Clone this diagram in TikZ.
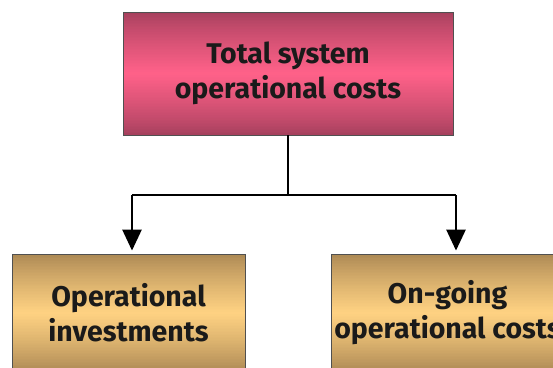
\documentclass[tikz,border=0pt]{standalone}
\usepackage{fontspec}
\setmainfont{Fira Sans}
\usetikzlibrary{arrows.meta}
\definecolor{pinkdark}{HTML}{A33F5C}
\definecolor{pinklight}{HTML}{FF6189}
\definecolor{golddark}{HTML}{A88552}
\definecolor{goldlight}{HTML}{FFD282}
\definecolor{txt}{HTML}{1A1A1A}
\definecolor{edge}{HTML}{505050}
\tikzset{
  box/.style={draw=edge, line width=0.8pt, align=center, font=\fontsize{28.5}{35}\selectfont\bfseries, text=txt, inner sep=0pt},
  conn/.style={line width=2.6pt, black},
  arr/.style={conn, -{Triangle[width=19pt,length=21pt]}}
}
% gradient strips: x1,y1 (top), x2,y2 (bottom), dark, light
\newcommand{\gradfill}[6]{%
  \foreach \i in {0,...,79}{%
    \pgfmathsetmacro{\ya}{#2+(#4-#2)*\i/80}%
    \pgfmathsetmacro{\yb}{#2+(#4-#2)*(\i+1.3)/80}%
    \pgfmathsetmacro{\w}{100*(1-abs(2*(\i+0.5)/80-1))^0.8}%
    \fill[#6!\w!#5] (#1,\ya) rectangle (#3,\yb);%
  }%
}
\begin{document}
\begin{tikzpicture}[x=1pt,y=-1pt]
\useasboundingbox (0,0) rectangle (553,367);
\clip (0,0) rectangle (553,367);
\gradfill{123}{12}{453}{135}{pinkdark}{pinklight}
\gradfill{12}{254}{245}{372}{golddark}{goldlight}
\gradfill{331}{254}{564}{372}{golddark}{goldlight}
\node[box, minimum width=330pt, minimum height=123pt] (top) at (288,73.5) {Total system\\operational costs};
\node[box, minimum width=233pt, minimum height=118pt] (left) at (128.5,313) {Operational\\investments};
\node[box, minimum width=233pt, minimum height=118pt] (right) at (447.5,313) {On-going\\operational costs};
\coordinate (j) at (288,195);
\coordinate (jl) at (132,195);
\coordinate (jr) at (456,195);
\draw[conn] (top.south -| j) -- (j);
\draw[conn] (jl) -- (jr);
\draw[arr] (jl) -- ([yshift=3pt]jl |- left.north);
\draw[arr] (jr) -- ([yshift=3pt]jr |- right.north);
\end{tikzpicture}
\end{document}
